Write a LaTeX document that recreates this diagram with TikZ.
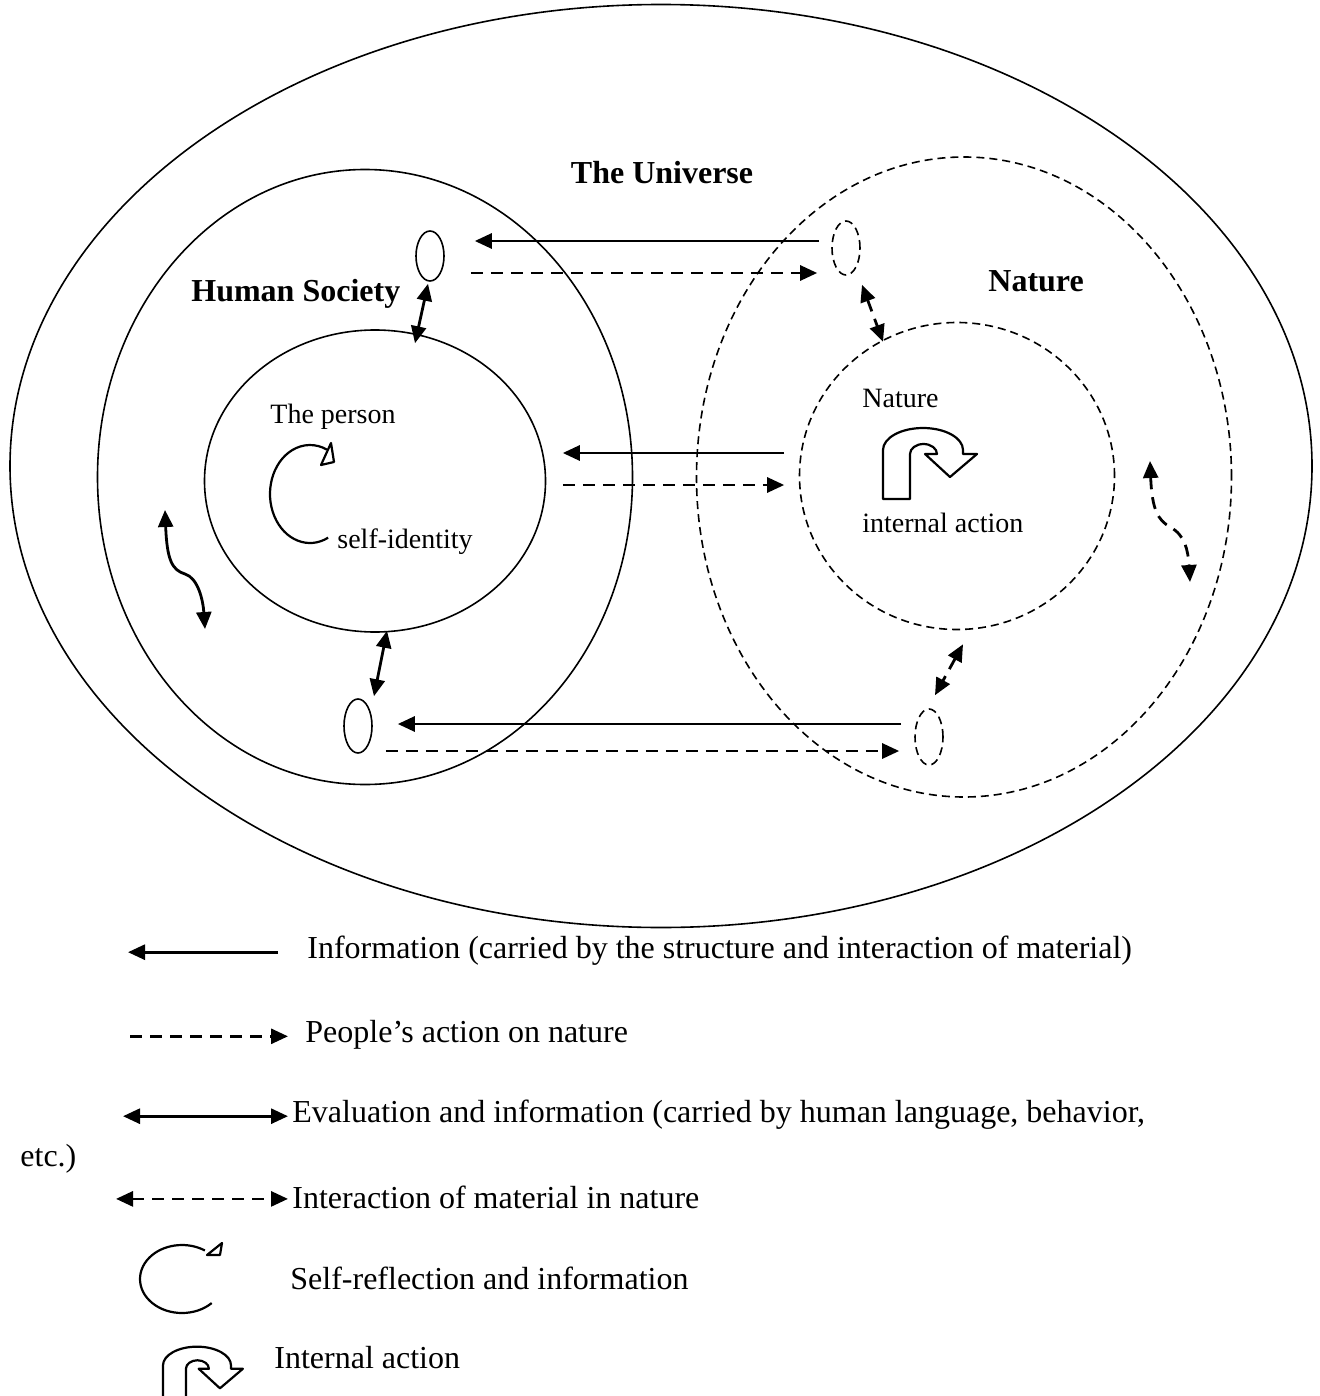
\documentclass[tikz,border=0pt]{standalone}
\usepackage{fontspec}
\setmainfont{Liberation Serif}
\usetikzlibrary{arrows.meta,shapes.geometric}

\tikzset{
  every node/.style={font=\fontsize{14}{17}\selectfont},
  txt/.style={anchor=base west, inner sep=0pt},
  keytxt/.style={txt, font=\fontsize{16}{19}\selectfont},
  lbl/.style={inner sep=0pt, font=\fontsize{16}{19}\selectfont\bfseries},
  ring/.style={ellipse, draw, line width=0.8pt, inner sep=0pt},
  dring/.style={ring, dash pattern=on 4pt off 2.5pt},
  info/.style={-{Triangle[length=8.5pt,width=7.5pt]}, line width=1.4pt},
  act/.style={info, dash pattern=on 6pt off 4pt},
  eval/.style={{Triangle[length=8.5pt,width=7.5pt]}-{Triangle[length=8.5pt,width=7.5pt]}, line width=1.4pt},
  inter/.style={eval, dash pattern=on 6pt off 4pt},
  loopline/.style={line width=1.1pt},
}

% hollow u-turn arrow, foot of the stem at #1,#2, scaled by #3
\newcommand{\uturn}[3]{%
  \draw[loopline, line join=round, shift={(#1,#2)}, scale=#3]
    (0,0) -- (0,-49)
    arc[start angle=180, end angle=360, x radius=40, y radius=22]
    -- (80,-45) -- (94,-45) -- (67,-22) -- (42,-45) -- (54,-45)
    arc[start angle=0, end angle=-180, x radius=13.5, y radius=10]
    -- (27,0) -- cycle;
}

\begin{document}
\begin{tikzpicture}[x=0.5pt, y=-0.5pt]
\useasboundingbox (0,0) rectangle (1320,1396);
\clip (0,0) rectangle (1320,1396);

% the big rings
\node[ring, minimum width=651pt, minimum height=461.5pt] (universe) at (661,466) {};
\node[ring, minimum width=267.5pt, minimum height=307.5pt] (society) at (365,477) {};
\node[dring, minimum width=267.5pt, minimum height=320pt] (natOut) at (964,477) {};
\node[ring, minimum width=170.5pt, minimum height=151pt] (person) at (375,481) {};
\node[dring, minimum width=157.5pt, minimum height=153.5pt] (natIn) at (957,476) {};

% small contact points
\node[ring, minimum width=14pt, minimum height=25pt] (hsTop) at (430,256) {};
\node[dring, minimum width=14pt, minimum height=27pt] (naTop) at (846,248) {};
\node[ring, minimum width=14pt, minimum height=27pt] (hsBot) at (358,726) {};
\node[dring, minimum width=14pt, minimum height=28pt] (naBot) at (929,737) {};

% labels
\node[lbl, anchor=base] (uniLbl) at (662,184) {The Universe};
\node[lbl, anchor=base west] (socLbl) at (191,301) {Human Society};
\node[lbl, anchor=base west] (natLbl) at (988,292) {Nature};
\node[txt] (perLbl) at (270,423) {The person};
\node[txt] (selfLbl) at (337,548) {self-identity};
\node[txt] (natInLbl) at (862,407) {Nature};
\node[txt] (actLbl) at (862,532) {internal action};

% information and action between society and nature
\draw[info] ([shift={(-12,-7)}]naTop.west) -- ([shift={(30,-15)}]hsTop.east);
\draw[act] ([shift={(26,17)}]hsTop.east) -- ([shift={(-14,25)}]naTop.west);
\draw[info] ([shift={(-14.5,-23)}]natIn.west) -- ([shift={(16.5,-28)}]person.east);
\draw[act] ([shift={(16.5,4)}]person.east) -- ([shift={(-14.5,9)}]natIn.west);
\draw[info] ([shift={(-13,-13)}]naBot.west) -- ([shift={(25,-2)}]hsBot.east);
\draw[act] ([shift={(13,25)}]hsBot.east) -- ([shift={(-15,14)}]naBot.west);

% evaluation inside society, interaction inside nature
\draw[eval] ([shift={(-2,2)}]hsTop.south) -- ([shift={(40,14)}]person.north);
\draw[eval] ([shift={(12,-2)}]person.south) -- ([shift={(16,-2)}]hsBot.north);
\draw[inter] ([shift={(16,9)}]naTop.south) -- ([shift={(-74,20)}]natIn.north);
\draw[inter] ([shift={(6,14)}]natIn.south) -- ([shift={(6,-13)}]naBot.north);
\draw[eval] (165,510) .. controls (167,560) and (172,570) .. (185,574)
  .. controls (198,578) and (203,600) .. (205,629);
\draw[inter] (1150,461) .. controls (1152,510) and (1158,520) .. (1170,527)
  .. controls (1185,535) and (1188,550) .. (1190,582);

% self-identity loop and internal action
\draw[loopline] (310,494) ++(63:40 and 49)
  arc[start angle=63, end angle=295, x radius=40, y radius=49];
\draw[loopline, line join=round] (321,465) -- (334,462) -- (331,443) -- cycle;
\uturn{883}{499}{1}

% key
\node[keytxt] (key1) at (307,958) {Information (carried by the structure and interaction of material)};
\node[keytxt] (key2) at (305,1042) {People’s action on nature};
\node[keytxt] (key3) at (292,1122) {Evaluation and information (carried by human language, behavior,};
\node[keytxt] (key3b) at (20,1166) {etc.)};
\node[keytxt] (key4) at (292,1208) {Interaction of material in nature};
\node[keytxt] (key5) at (290,1289) {Self-reflection and information};
\node[keytxt] (key6) at (274,1368) {Internal action};

\draw[info] ([shift={(-29,2)}]key1.west) -- ([shift={(-179,2)}]key1.west);
\draw[act] ([shift={(-175,2)}]key2.west) -- ([shift={(-17,2)}]key2.west);
\draw[eval] ([shift={(-169,2)}]key3.west) -- ([shift={(-4,2)}]key3.west);
\draw[inter] ([shift={(-176,2)}]key4.west) -- ([shift={(-4,2)}]key4.west);

\draw[loopline] (182,1279) ++(45:42 and 34)
  arc[start angle=45, end angle=303, x radius=42, y radius=34];
\draw[loopline, line join=round] (207,1255) -- (222,1243) -- (220,1255) -- cycle;
\uturn{163}{1407}{0.85}

\end{tikzpicture}
\end{document}
